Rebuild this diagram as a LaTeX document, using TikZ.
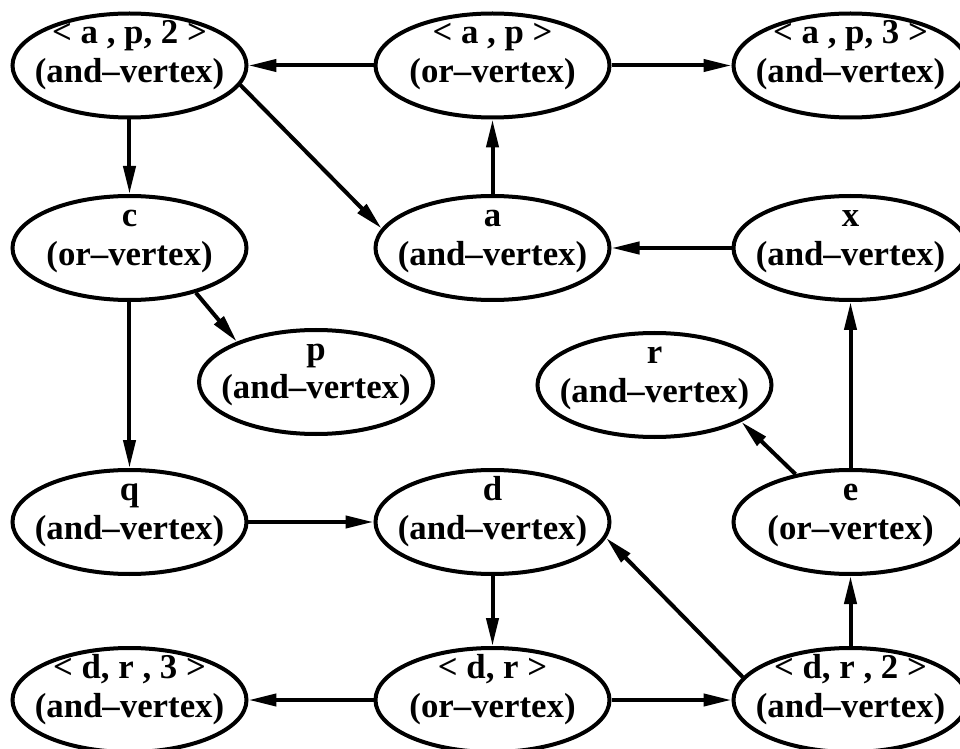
\documentclass[tikz,border=0pt]{standalone}
\usepackage{fontspec}
\setmainfont{Liberation Serif}
\usetikzlibrary{shapes,arrows.meta}
\tikzstyle{every picture}=[node distance=181.5pt, line width=2pt,%
	>={Triangle[length=14pt,width=6pt]}]
\tikzstyle{vertex}=[draw, ellipse, align=center, minimum width=117pt, minimum height=52pt,%
	inner xsep=-20pt, inner ysep=-10pt, text height=33pt, text depth=16pt,%
	font=\bfseries\fontsize{17.4}{19.3}\selectfont]

\begin{document}
\begin{tikzpicture}
	\useasboundingbox (-64.75pt,32.75pt) rectangle (415.25pt,-341.75pt);
	\node[vertex] (ap2) {< a , p, 2 >\\(and--vertex)};
	\node[vertex] (ap) [right of=ap2] {< a , p >\\(or--vertex)};
	\node[vertex] (ap3) [node distance=179pt, right of=ap] {< a , p, 3 >\\(and--vertex)};
	\node[vertex] (c) [node distance=91.25pt, below of=ap2] {c\\(or--vertex)};
	\node[vertex] (a) [right of=c] {a\\(and--vertex)};
	\node[vertex] (x) [node distance=179pt, right of=a] {x\\(and--vertex)};
	\node[vertex] (q) [node distance=137pt, below of=c] {q\\(and--vertex)};
	\node[vertex] (d) [right of=q] {d\\(and--vertex)};
	\node[vertex] (e) [node distance=179pt, right of=d] {e\\(or--vertex)};
	\node[vertex] (dr3) [node distance=89pt, below of=q] {< d, r , 3 >\\(and--vertex)};
	\node[vertex] (dr) [right of=dr3] {< d, r >\\(or--vertex)};
	\node[vertex] (dr2) [node distance=179pt, right of=dr] {< d, r , 2 >\\(and--vertex)};
	\node[vertex] (p) at ([shift={(93.25pt,-67pt)}]c) {p\\(and--vertex)};
	\node[vertex] (r) at ([shift={(-98pt,68.5pt)}]e) {r\\(and--vertex)};
	\draw (ap) edge[->] (ap2) (ap) edge[->] (ap3) (a) edge[->] (ap)
		(ap2) edge[->] (c) (ap2.-10) edge[->] (a.170) (x) edge[->] (a)
		(c) edge[->] (q) (c.-34) edge[->] (p.153) (q) edge[->] (d)
		(d) edge[->] (dr) (dr) edge[->] (dr3) (dr) edge[->] (dr2)
		(dr2.168) edge[->] (d.-8) (dr2) edge[->] (e) (e) edge[->] (x)
		(e.139) edge[->] (r.-23);
\end{tikzpicture}
\end{document}
